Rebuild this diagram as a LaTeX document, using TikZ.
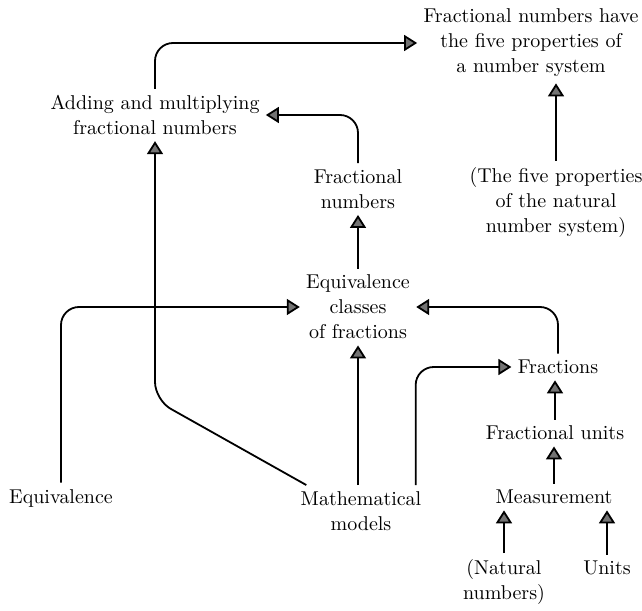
\documentclass[tikz,border=0pt]{standalone}
\usepackage{tikz}
\usetikzlibrary{arrows.meta,positioning}

\begin{document}
\begin{tikzpicture}[
  x=0.5pt,y=-0.5pt,
  topic/.style={align=center,inner sep=3pt,font=\fontsize{10}{12.5}\selectfont},
  link/.style={-{Triangle[width=8pt,length=6.5pt,fill=black!55]},line width=0.9pt,
               rounded corners=9pt}
]
  \useasboundingbox (0,0) rectangle (642,610);
  \node[topic] (props) at (531,43) {Fractional numbers have\\the five properties of\\a number system};
  \node[topic] (adding) at (155,115) {Adding and multiplying\\fractional numbers};
  \node[topic] (fracnum) at (358,189) {Fractional\\numbers};
  \node[topic] (fiveprop) at (556,202) {(The five properties\\of the natural\\number system)};
  \node[topic] (eqclass) at (358,307) {Equivalence\\classes\\of fractions};
  \node[topic] (fractions) at (558,367) {Fractions};
  \node[topic] (fracunits) at (555,433) {Fractional units};
  \node[topic] (measure) at (554,497) {Measurement};
  \node[topic] (mathmod) at (361,511) {Mathematical\\models};
  \node[topic] (equiv) at (61,498) {Equivalence};
  \node[topic] (natnum) at (504,582) {(Natural\\numbers)};
  \node[topic] (units) at (607,568) {Units};

  \draw[link] (adding.north) |- (props.west);
  \draw[link] (fracnum.north) |- (adding.east);
  \draw[link] (fiveprop.north) -- (fiveprop.north |- props.south);
  \draw[link] (eqclass.north) -- (fracnum.south);
  \draw[link] (equiv.north) |- (eqclass.west);
  \draw[link] (fractions.north) |- (eqclass.east);
  \draw[link] (mathmod.north -| eqclass.south) -- (eqclass.south);
  \draw[link] ([xshift=6pt]mathmod.north west) -- (adding.south |- 0,400) -- (adding.south);
  \draw[link] ([xshift=-6pt]mathmod.north east) |- (fractions.west);
  \draw[link] (fracunits.north) -- (fracunits.north |- fractions.south);
  \draw[link] (measure.north) -- (measure.north |- fracunits.south);
  \draw[link] (natnum.north) -- (natnum.north |- measure.south);
  \draw[link] (units.north) -- (units.north |- measure.south);
\end{tikzpicture}
\end{document}
